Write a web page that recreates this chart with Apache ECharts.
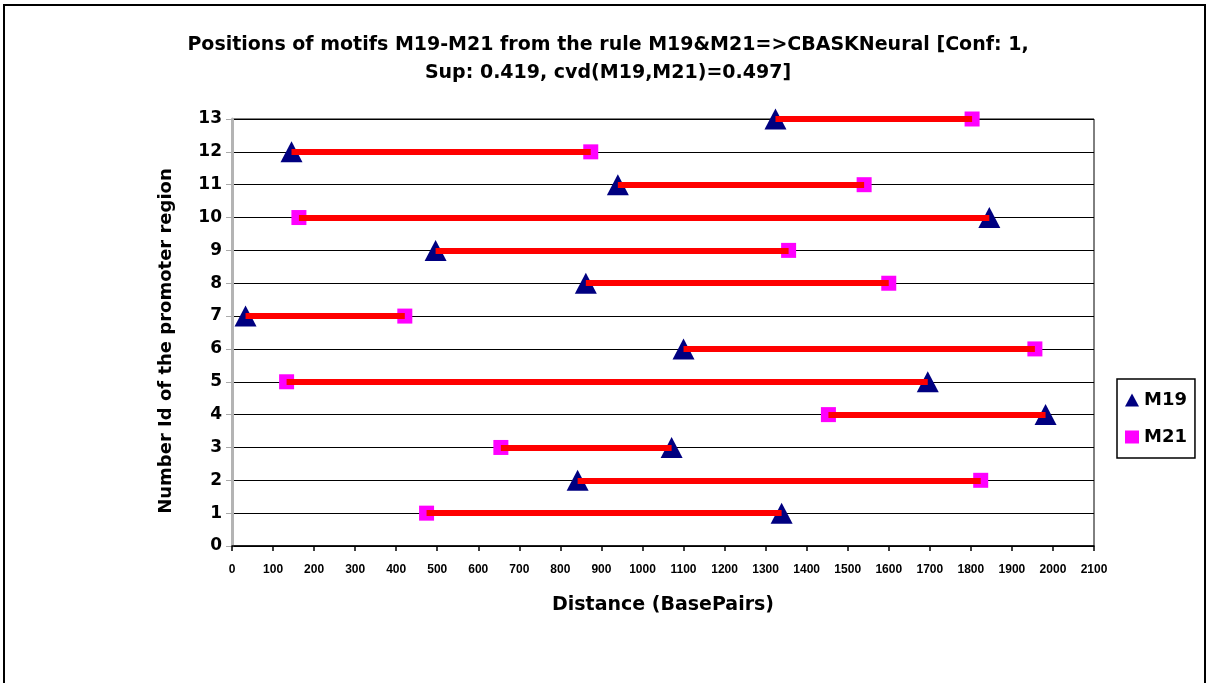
<!DOCTYPE html>
<html>
<head>
<meta charset="utf-8">
<script src="https://cdn.jsdelivr.net/npm/echarts@6/dist/echarts.min.js"></script>
<style>html,body{margin:0;padding:0;background:#fff;}#c{width:1207px;height:683px;}</style>
</head>
<body>
<div id="c"></div>
<script>
// Data
const rows = [1, 2, 3, 4, 5, 6, 7, 8, 9, 10, 11, 12, 13];
const m19 = [1339, 842, 1071, 1982, 1695, 1100, 33, 862, 496, 1845, 940, 145, 1324];
const m21 = [474, 1824, 655, 1453, 133, 1956, 421, 1600, 1356, 163, 1540, 874, 1803];
const titleLines = ['Positions of motifs M19-M21 from the rule M19&M21=>CBASKNeural [Conf: 1,', 'Sup: 0.419, cvd(M19,M21)=0.497]'];
const yName = 'Number Id of the promoter region';
const xName = 'Distance (BasePairs)';

const FONT = '"Liberation Sans", Arial, sans-serif';
const WFONT = '"DejaVu Sans", sans-serif';
const chart = echarts.init(document.getElementById('c'), null, {renderer: 'canvas'});

const segs = rows.map((r, i) => ({coords: [[m19[i], r], [m21[i], r]]}));

chart.setOption({
  animation: false,
  backgroundColor: '#fff',
  graphic: [
    {type: 'rect', shape: {x: 4, y: 5, width: 1201, height: 720}, style: {fill: 'none', stroke: '#000', lineWidth: 2}, z: 0, silent: true},
    {type: 'text', style: {x: 608, y: 45, text: titleLines[0], textAlign: 'center', textVerticalAlign: 'middle', font: 'bold 19px ' + WFONT, fill: '#000'}},
    {type: 'text', style: {x: 608, y: 73, text: titleLines[1], textAlign: 'center', textVerticalAlign: 'middle', font: 'bold 19px ' + WFONT, fill: '#000'}},
    {type: 'text', x: 166, y: 341, rotation: Math.PI / 2, style: {x: 0, y: 0, text: yName, textAlign: 'center', textVerticalAlign: 'middle', font: 'bold 18px ' + WFONT, fill: '#000'}}
  ],
  grid: {left: 232, right: 113, top: 119, bottom: 137, show: true, borderColor: '#000', borderWidth: 1, backgroundColor: 'transparent'},
  legend: {
    orient: 'vertical', left: 1117, top: 379,
    data: ['M19', 'M21'],
    borderColor: '#000', borderWidth: 1.5,
    padding: [12, 8, 12, 8],
    itemGap: 19, itemWidth: 14, itemHeight: 13,
    textStyle: {fontFamily: WFONT, fontWeight: 'bold', fontSize: 18, color: '#000'}
  },
  xAxis: {
    type: 'value', min: 0, max: 2100, interval: 100,
    name: xName, nameLocation: 'middle', nameGap: 50,
    nameTextStyle: {fontFamily: WFONT, fontWeight: 'bold', fontSize: 19, color: '#000'},
    axisLine: {show: true, lineStyle: {color: '#000', width: 1.5}},
    axisTick: {show: true, length: 5, lineStyle: {color: '#000', width: 1.5}},
    axisLabel: {fontFamily: FONT, fontWeight: 'bold', fontSize: 12, color: '#000', margin: 18, formatter: v => String(v)},
    splitLine: {show: false}
  },
  yAxis: {
    type: 'value', min: 0, max: 13, interval: 1,
    axisLine: {show: true, lineStyle: {color: '#b4b4b4', width: 3}},
    axisTick: {show: true, length: 6, lineStyle: {color: '#aaa', width: 1}},
    axisLabel: {fontFamily: WFONT, fontWeight: 'bold', fontSize: 17, color: '#000', margin: 10},
    splitLine: {show: true, lineStyle: {color: '#000', width: 1.2}}
  },
  series: [
    {
      name: 'M19', type: 'scatter', symbol: 'triangle', symbolSize: [22, 21],
      itemStyle: {color: '#000080', opacity: 1},
      data: rows.map((r, i) => [m19[i], r]), z: 2
    },
    {
      name: 'M21', type: 'scatter', symbol: 'rect', symbolSize: 15,
      itemStyle: {color: '#ff00ff', opacity: 1},
      data: rows.map((r, i) => [m21[i], r]), z: 2
    },
    {
      name: 'link', type: 'lines', coordinateSystem: 'cartesian2d',
      lineStyle: {color: '#ff0000', width: 6, opacity: 1},
      data: segs, z: 3, silent: true
    }
  ]
});
</script>
</body>
</html>
